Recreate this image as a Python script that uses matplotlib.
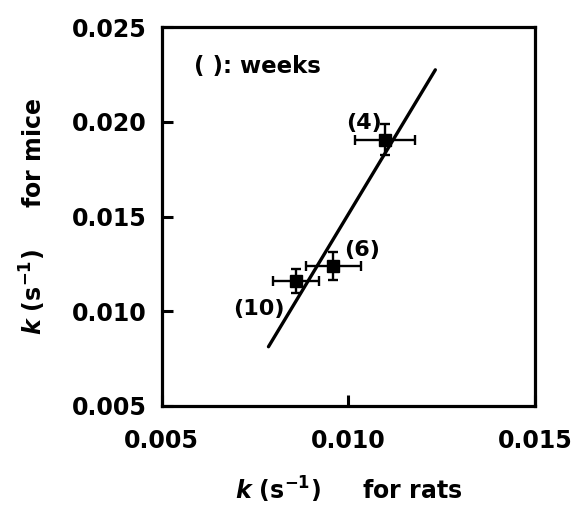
import matplotlib
matplotlib.use("Agg")
import matplotlib.pyplot as plt

plt.rcParams['font.family'] = ['DejaVu Sans']
plt.rcParams['font.weight'] = 'bold'
plt.rcParams['mathtext.fontset'] = 'custom'
plt.rcParams['mathtext.rm'] = 'DejaVu Sans:bold'
plt.rcParams['mathtext.bf'] = 'DejaVu Sans:bold'
plt.rcParams['mathtext.it'] = 'DejaVu Sans:italic:bold'

# rate constants, rats (x) vs mice (y), by age in weeks
weeks = ["(4)", "(6)", "(10)"]
k_rats = [0.01098, 0.00960, 0.00860]
k_mice = [0.01905, 0.01238, 0.01159]
k_rats_err = [0.00080, 0.00074, 0.00061]
k_mice_err = [0.00082, 0.00073, 0.00063]

# regression line end points
fit_x = [0.00786, 0.01233]
fit_y = [0.00811, 0.02276]

# where the week labels sit
label_x = [0.01042, 0.01038, 0.00761]
label_y = [0.01997, 0.01325, 0.01011]

xticks = [0.005, 0.010, 0.015]
yticks = [0.005, 0.010, 0.015, 0.020, 0.025]

fig = plt.figure(figsize=(5.73, 5.09), dpi=100)
ax = fig.add_axes([0.2822, 0.2033, 0.6515, 0.7427])

ax.plot(fit_x, fit_y, color="black", lw=2.4, solid_capstyle="round")
ax.errorbar(k_rats, k_mice, xerr=k_rats_err, yerr=k_mice_err, fmt="s",
            color="black", ms=8.5, elinewidth=1.7, capsize=3.8, capthick=1.7)

for lab, lx, ly in zip(weeks, label_x, label_y):
    ax.text(lx, ly, lab, fontsize=16, fontweight="bold", ha="center", va="center")

ax.text(0.00586, 0.02293, "( ): weeks", fontsize=16.5, fontweight="bold",
        ha="left", va="center")

ax.set_xlim(0.005, 0.015)
ax.set_ylim(0.005, 0.025)
ax.set_xticks(xticks)
ax.set_yticks(yticks)
ax.set_xticklabels(["%.3f" % v for v in xticks])
ax.set_yticklabels(["%.3f" % v for v in yticks])
ax.tick_params(axis="both", direction="in", length=8, width=2.2, labelsize=17)
ax.tick_params(axis="x", pad=17)
ax.tick_params(axis="y", pad=11)
for s in ax.spines.values():
    s.set_linewidth(2.3)

fig.text(0.5 * (0.2822 + 0.9337), 1 - 490 / 509, r"$k$ (s$^{-1}$)     for rats",
         fontsize=17, fontweight="bold", ha="center", va="center")
fig.text(33 / 573, 1 - 216 / 509, r"$k$ (s$^{-1}$)     for mice",
         fontsize=17, fontweight="bold", ha="center", va="center", rotation=90)

fig.savefig("out.png", dpi=100)
